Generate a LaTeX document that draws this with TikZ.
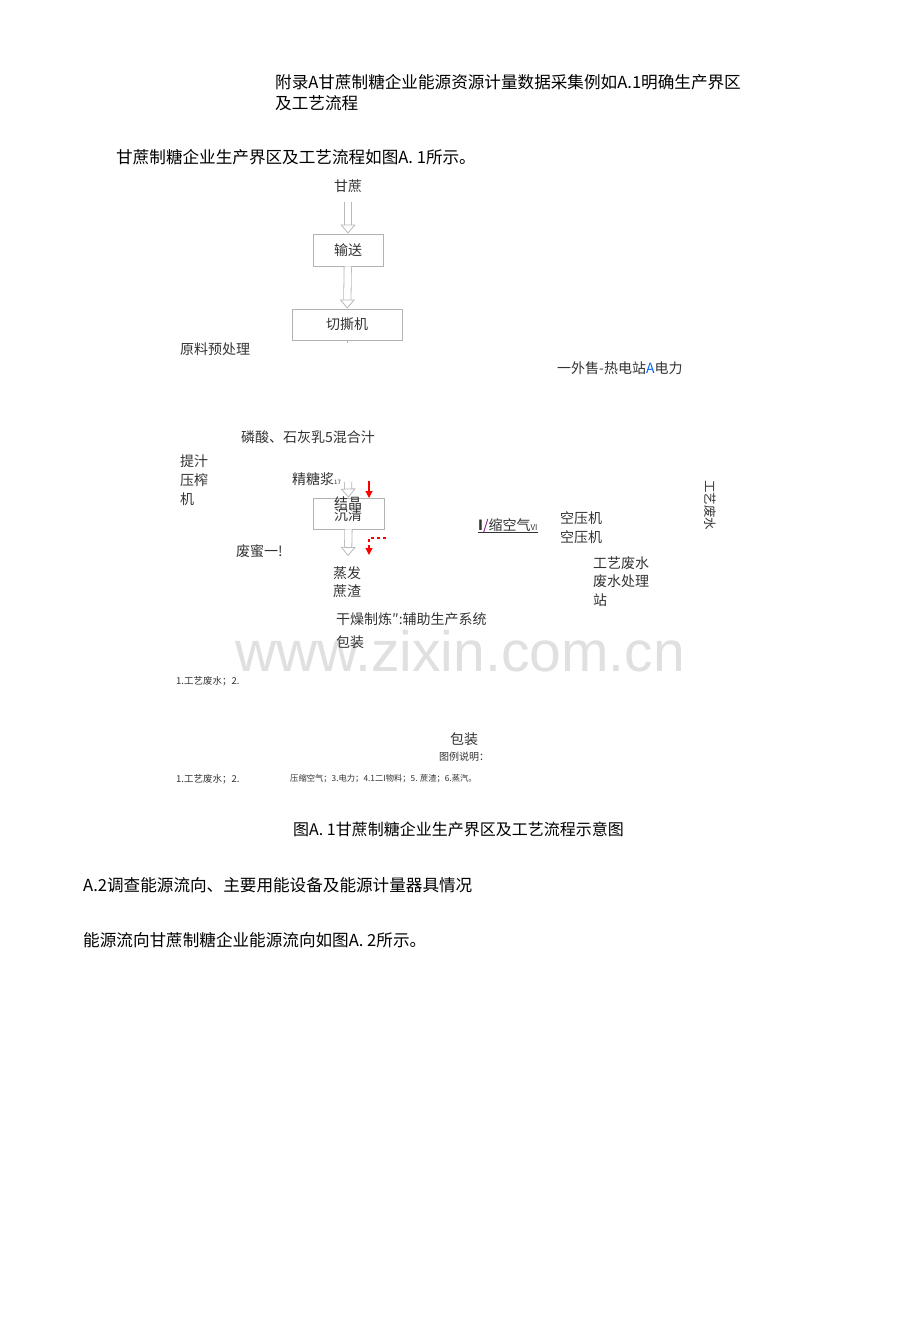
\documentclass[tikz,border=0pt]{standalone}
\usepackage{fontspec}
\setmainfont{Noto Sans CJK SC}
\newfontfamily\wmfont{Liberation Sans}
\usetikzlibrary{positioning,arrows.meta}

\tikzset{
    headtext/.style={anchor=west, inner sep=0pt, font=\fontsize{16.6}{20}\selectfont},
    flowtext/.style={anchor=west, inner sep=0pt, text=black!80, font=\fontsize{14}{17}\selectfont},
    smalltext/.style={anchor=west, inner sep=0pt, text=black!80, font=\fontsize{9.5}{11}\selectfont},
    flowbox/.style={draw=gray!60, line width=0.8pt, inner sep=0pt},
    hollow/.style={draw=gray!55, line width=0.8pt, double=white, double distance=6.5pt,
        -{Triangle[open, length=9pt, width=15pt]}},
    redarrow/.style={red, line width=1.2pt, -{Triangle[length=7pt, width=7pt]}}
}

\begin{document}
\begin{tikzpicture}[x=1pt, y=-1pt]
    \useasboundingbox[fill=white] (0,0) rectangle (920,1336);

    % watermark
    \node (watermark) [inner sep=0pt, text=black!12, font=\wmfont\fontsize{57}{60}\selectfont] at (460,651) {www.zixin.com.cn};

    \node (title1) [headtext] at (275,82) {附录A甘蔗制糖企业能源资源计量数据采集例如A.1明确生产界区};
    \node (title2) [headtext] at (275,103) {及工艺流程};
    \node (intro) [headtext] at (116,157) {甘蔗制糖企业生产界区及工艺流程如图A. 1所示。};

    % main flow
    \node (ganzhe) [flowtext, anchor=center] at (348,186) {甘蔗};
    \node (shusong) [flowbox, minimum width=70pt, minimum height=32pt, flowtext, anchor=center] at (348,250) {输送};
    \node (qiesiji) [flowbox, minimum width=110pt, minimum height=31pt, flowtext, anchor=center] at (347,324.5) {切撕机};
    \draw[hollow, shorten <=9pt] (ganzhe) -- (shusong);
    \draw[hollow] (shusong) -- (qiesiji);
    \draw[gray!60, line width=0.8pt] (qiesiji.south) -- ++(0,3);

    \node (yuanliao) [flowtext] at (180,349) {原料预处理};
    \node (waishou) [flowtext] at (557,368) {一外售-热电站{\color{blue!60!cyan}A}电力};

    \node (linsuan) [flowtext] at (241,437) {磷酸、石灰乳5混合汁};
    \node (tizhi) [flowtext] at (180,461) {提汁};
    \node (yazha) [flowtext] at (180,480) {压榨};
    \node (ji) [flowtext] at (180,499) {机};
    \node (jingtang) [flowtext] at (292,479) {精糖浆{\fontsize{6}{7}\selectfont 17}};

    \node (jiejing) [flowbox, minimum width=71pt, minimum height=31pt] at (348.5,513.5) {};
    \node (jiejingtxt) [flowtext, anchor=center] at (348,503) {结晶};
    \node (chenqing) [flowtext, anchor=center] at (348,515) {沉清};
    \coordinate (jingin) at (348,482);
    \coordinate (jingout) at (348,556);
    \draw[hollow] (jingin) -- (jiejing.north);
    \draw[hollow] (jiejing.south) -- (jingout);

    % red arrows
    \coordinate (redtop) at (369,481);
    \coordinate (redin) at (369,498);
    \coordinate (reddash) at (386,538);
    \coordinate (redbend) at (369,538);
    \coordinate (redout) at (369,555);
    \draw[redarrow] (redtop) -- (redin);
    \draw[redarrow, dashed] (reddash) -- (redbend) -- (redout);

    \node (feimi) [flowtext] at (236,551) {废蜜一!};
    \node (zhengfa) [flowtext] at (333,573) {蒸发};
    \node (zhezha) [flowtext] at (333,591) {蔗渣};
    \node (ganzao) [flowtext] at (336,619) {干燥制炼″:辅助生产系统};
    \node (baozhuang1) [flowtext] at (336,642) {包装};

    % compressed air
    \node (suokongqi) [flowtext] at (478,526) {\textbf{I}{\color{violet}/}缩空气{\fontsize{8}{9}\selectfont VI}};
    \draw[black!80, line width=0.8pt] ([yshift=1pt]suokongqi.south west) -- ([yshift=1pt]suokongqi.south east);
    \node (kongyaji1) [flowtext] at (560,518) {空压机};
    \node (kongyaji2) [flowtext] at (560,537) {空压机};
    \node (feishui1) [flowtext] at (593,563) {工艺废水};
    \node (feishui2) [flowtext] at (593,581) {废水处理};
    \node (zhan) [flowtext] at (593,600) {站};
    \node (feishuiv) [flowtext, anchor=center, rotate=-90, font=\fontsize{12.5}{14}\selectfont] at (710,505) {工艺废水};

    % legend
    \node (legend0) [smalltext] at (176,681) {1.工艺废水；2.};
    \node (baozhuang2) [flowtext, anchor=center] at (464,739) {包装};
    \node (tuli) [smalltext, anchor=center, font=\fontsize{10}{12}\selectfont] at (464,757) {图例说明：};
    \node (legend1) [smalltext] at (176,779) {1.工艺废水；2.};
    \node (legend2) [smalltext, font=\fontsize{8.3}{10}\selectfont] at (290,779) {压缩空气；3.电力；4.1二I物料；5. 蔗渣；6.蒸汽。};

    \node (caption) [headtext, font=\fontsize{16}{19}\selectfont] at (293,829) {图A. 1甘蔗制糖企业生产界区及工艺流程示意图};
    \node (sectiona2) [headtext] at (83,885) {A.2调查能源流向、主要用能设备及能源计量器具情况};
    \node (nengyuan) [headtext] at (83,940) {能源流向甘蔗制糖企业能源流向如图A. 2所示。};
\end{tikzpicture}
\end{document}
